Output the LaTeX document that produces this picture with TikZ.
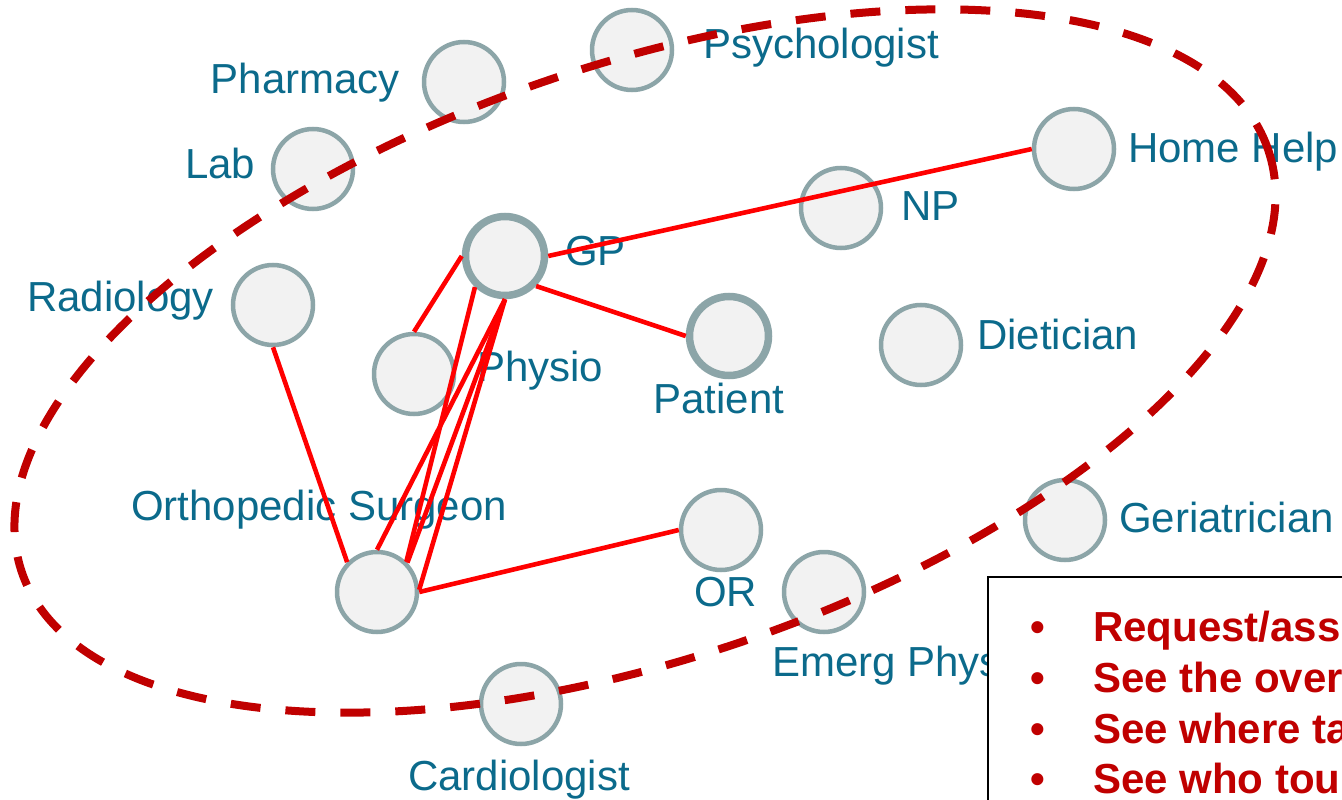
\documentclass[tikz,border=0pt]{standalone}
\usepackage{fontspec}
\setmainfont{Liberation Sans}
\usepackage{tikz}

\definecolor{lbl}{HTML}{0B6A8B}
\definecolor{ring}{HTML}{8CA5A8}
\definecolor{disc}{HTML}{F2F2F2}
\definecolor{dred}{HTML}{C00000}

\begin{document}
\begin{tikzpicture}[x=1pt,y=-1pt,
    vtx/.style={circle,draw=ring,fill=disc,line width=4.5pt,minimum size=80pt,inner sep=0pt},
    keyvtx/.style={vtx,line width=7.5pt,minimum size=79pt},
    lab/.style={text=lbl,font=\fontsize{42}{50}\selectfont,inner sep=0pt},
    tie/.style={red,line width=4.6pt},
    pt/.style={text=dred,font=\bfseries\fontsize{42}{50}\selectfont,inner sep=0pt}]
    \useasboundingbox (0,0) rectangle (1342,800);
    \clip (0,0) rectangle (1342,800);
    % people around the patient
    \node[vtx] (Psych) at (632,50) {};   \node[lab,anchor=base west] (Psych-l) at (703,59) {Psychologist};
    \node[vtx] (Pharm) at (464,82) {};   \node[lab,anchor=base east] (Pharm-l) at (400,94) {Pharmacy};
    \node[vtx] (Lab) at (313,169) {};    \node[lab,anchor=base west] (Lab-l) at (185,178) {Lab};
    \node[vtx] (Home) at (1074,149) {};  \node[lab,anchor=base west] (Home-l) at (1128,162) {Home Help};
    \node[vtx] (NP) at (841,208) {};     \node[lab,anchor=base west] (NP-l) at (901,220) {NP};
    \node[keyvtx] (GP) at (505,256) {};  \node[lab,anchor=base west] (GP-l) at (565,265) {GP};
    \node[vtx] (Radio) at (273,305) {};  \node[lab,anchor=base west] (Radio-l) at (27,311) {Radiology};
    \node[vtx] (Physio) at (414,374) {}; \node[lab,anchor=base west] (Physio-l) at (477,381) {Physio};
    \node[keyvtx] (Patient) at (729,336) {}; \node[lab,anchor=base] (Patient-l) at (719,413) {Patient};
    \node[vtx] (Diet) at (921,345) {};   \node[lab,anchor=base west] (Diet-l) at (977,349) {Dietician};
    \node[vtx] (Ortho) at (377,592) {};  \node[lab,anchor=base west] (Ortho-l) at (131,520) {Orthopedic Surgeon};
    \node[vtx] (OR) at (721,530) {};     \node[lab,anchor=base west] (OR-l) at (694,606) {OR};
    \node[vtx] (Geri) at (1065,520) {};  \node[lab,anchor=base west] (Geri-l) at (1119,532) {Geriatrician};
    \node[vtx] (Emerg) at (824,592) {};  \node[lab,anchor=base west] (Emerg-l) at (772,676) {Emerg Phys};
    \node[vtx] (Cardio) at (521,704) {}; \node[lab,anchor=base] (Cardio-l) at (519,790) {Cardiologist};
    % who talked to whom
    \draw[tie] (GP.west) -- (Physio.north);
    \draw[tie] (GP.east) -- (Home.west);
    \draw[tie] (GP.-44) -- (Patient.west);
    \draw[tie] (GP.-134) -- (Ortho.46);
    \draw[tie] (GP.south) -- (Ortho.north);
    \draw[tie] (GP.south) -- (Ortho.44);
    \draw[tie] (GP.south) -- (Ortho.3);
    \draw[tie] (Radio.south) -- (Ortho.135);
    \draw[tie] (Ortho.east) -- (OR.west);
    % circle of care
    \draw[dred,line width=8pt,dash pattern=on 30pt off 25pt,rotate around={18.7:(645,361)}]
      (645,361) ellipse [x radius=658, y radius=297];
    % list box
    \draw[black,line width=1.5pt,fill=white] (988,577) rectangle (1400,850);
    \node[pt,anchor=base] (b1) at (1038,641) {•}; \node[pt,anchor=base west] (t1) at (1093,641) {Request/ass};
    \node[pt,anchor=base] (b2) at (1038,692) {•}; \node[pt,anchor=base west] (t2) at (1093,692) {See the over};
    \node[pt,anchor=base] (b3) at (1038,743) {•}; \node[pt,anchor=base west] (t3) at (1093,743) {See where ta};
    \node[pt,anchor=base] (b4) at (1038,793) {•}; \node[pt,anchor=base west] (t4) at (1093,793) {See who tou};
\end{tikzpicture}
\end{document}
